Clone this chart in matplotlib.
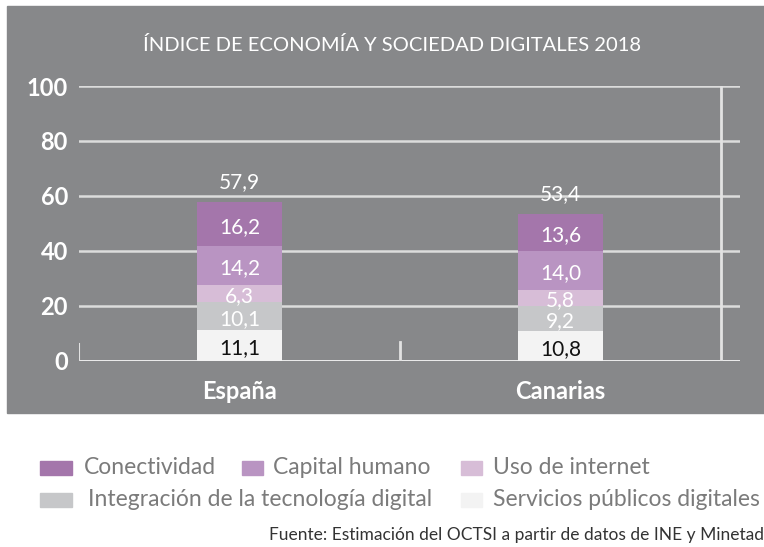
import matplotlib
matplotlib.use("Agg")
from matplotlib import pyplot as plt
from matplotlib.patches import Rectangle

plt.rcParams['font.family'] = ['Lato', 'DejaVu Sans']

# data
regions = ['España', 'Canarias']
components = ['Servicios públicos digitales', 'Integración de la tecnología digital',
              'Uso de internet', 'Capital humano', 'Conectividad']
values = {
    'Servicios públicos digitales': [11.1, 10.8],
    'Integración de la tecnología digital': [10.1, 9.2],
    'Uso de internet': [6.3, 5.8],
    'Capital humano': [14.2, 14.0],
    'Conectividad': [16.2, 13.6],
}
totals = [57.9, 53.4]
colors = {
    'Servicios públicos digitales': '#f3f3f3',
    'Integración de la tecnología digital': '#c6c7c9',
    'Uso de internet': '#d7bdd7',
    'Capital humano': '#b994c2',
    'Conectividad': '#a476ab',
}
label_colors = {
    'Servicios públicos digitales': '#111111',
    'Integración de la tecnología digital': 'white',
    'Uso de internet': 'white',
    'Capital humano': 'white',
    'Conectividad': 'white',
}

W, H = 764, 547
fig = plt.figure(figsize=(W / 100, H / 100), dpi=100)
fig.patch.set_facecolor('white')

panel = '#87888a'
fig.patches.append(Rectangle((7 / W, 1 - 413 / H), 757 / W, 407 / H,
                             transform=fig.transFigure, color=panel, zorder=-10))

ax = fig.add_axes([79 / W, 1 - 360.7 / H, (740 - 79) / W, (360.7 - 86) / H])
ax.set_facecolor('none')
ax.set_xlim(-0.5, 1.5 + 19 / 321)
ax.set_ylim(0, 100)
for s in ax.spines.values():
    s.set_visible(False)

for y in [20, 40, 60, 80, 100]:
    ax.axhline(y, color='#dcdcdc', lw=1.8, zorder=1)
ax.axhline(0, color='#f5f5f5', lw=2, zorder=1)
ax.plot([1.5, 1.5], [0, 100], color='#e2e2e2', lw=2, zorder=1)
ax.plot([-0.5, -0.5], [0, 6], color='#e2e2e2', lw=1.5, zorder=1)
ax.plot([0.5, 0.5], [0, 6.8], color='#e2e2e2', lw=2, zorder=1)

x = [0, 1]
bottom = [0, 0]
for comp in components:
    vals = values[comp]
    ax.bar(x, vals, 0.265, bottom=bottom, color=colors[comp], zorder=2)
    for i, v in enumerate(vals):
        ax.text(x[i], bottom[i] + v / 2 - 1, ('%.1f' % v).replace('.', ','),
                ha='center', va='center', fontsize=15, color=label_colors[comp], zorder=3)
    bottom = [b + v for b, v in zip(bottom, vals)]
for i, t in enumerate(totals):
    ax.text(x[i], t + 3.5, ('%.1f' % t).replace('.', ','), ha='center', va='bottom',
            fontsize=15, color='white')

ax.set_yticks([0, 20, 40, 60, 80, 100])
ax.set_yticklabels(['0', '20', '40', '60', '80', '100'], fontsize=17,
                   fontweight='bold', color='white')
ax.tick_params(axis='y', length=0, pad=8)
ax.set_xticks(x)
ax.set_xticklabels(regions, fontsize=17, fontweight='bold', color='white')
ax.tick_params(axis='x', length=0, pad=14)

fig.text(392 / W, 1 - 45 / H, 'ÍNDICE DE ECONOMÍA Y SOCIEDAD DIGITALES 2018',
         ha='center', va='center', fontsize=14.5, color='white')

# legend
leg = [
    ('Conectividad', 40, 32, 84, 468),
    ('Capital humano', 242, 21, 273, 468),
    ('Uso de internet', 461, 21, 493, 468),
    ('Integración de la tecnología digital', 40, 32, 88, 500),
    ('Servicios públicos digitales', 461, 21, 493, 500),
]
for name, sx, sw, tx, ty in leg:
    fig.patches.append(Rectangle((sx / W, 1 - (ty + 7) / H), sw / W, 14 / H,
                                 transform=fig.transFigure, color=colors[name]))
    fig.text(tx / W, 1 - ty / H, name, ha='left', va='center', fontsize=16.5,
             color='#7b7b7b')

fig.text(764 / W, 1 - 535 / H, 'Fuente: Estimación del OCTSI a partir de datos de INE y Minetad',
         ha='right', va='center', fontsize=12.5, color='#333333')

fig.savefig('out.png', dpi=100)
